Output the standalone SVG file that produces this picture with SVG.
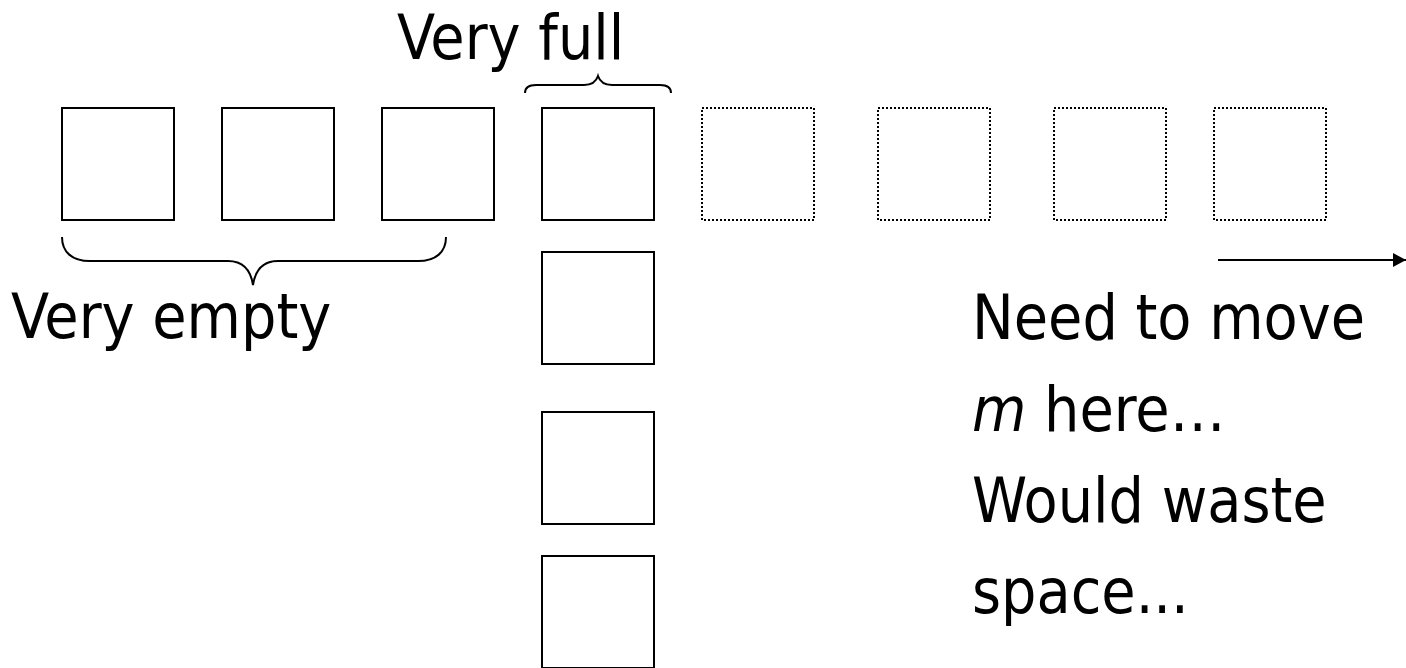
<svg xmlns="http://www.w3.org/2000/svg" width="1406" height="668" viewBox="0 0 1406 668">
<style>
.box{fill:#fff;stroke:#000;stroke-width:2}
.dot{fill:#fff;stroke:#000;stroke-width:2;stroke-dasharray:2 2}
.br{fill:none;stroke:#000;stroke-width:2}
.t{font-family:"DejaVu Sans Condensed","DejaVu Sans",sans-serif;font-stretch:condensed;font-size:62px;fill:#000}
</style>
<defs>
<marker id="ah" viewBox="0 0 13 14" refX="13" refY="7" markerWidth="13" markerHeight="14" markerUnits="userSpaceOnUse" orient="auto">
<path d="M0,0 L13,7 L0,14 z" fill="#000"/>
</marker>
</defs>
<rect width="1406" height="668" fill="#fff"/>
<g id="row">
<rect id="b1" class="box" x="62" y="108" width="112" height="112"/>
<rect id="b2" class="box" x="222" y="108" width="112" height="112"/>
<rect id="b3" class="box" x="382" y="108" width="112" height="112"/>
<rect id="b4" class="box" x="542" y="108" width="112" height="112"/>
<rect id="d1" class="dot" x="702" y="108" width="112" height="112"/>
<rect id="d2" class="dot" x="878" y="108" width="112" height="112"/>
<rect id="d3" class="dot" x="1054" y="108" width="112" height="112"/>
<rect id="d4" class="dot" x="1214" y="108" width="112" height="112"/>
</g>
<g id="col">
<rect id="c1" class="box" x="542" y="252" width="112" height="112"/>
<rect id="c2" class="box" x="542" y="412" width="112" height="112"/>
<rect id="c3" class="box" x="542" y="556" width="112" height="112"/>
</g>
<g id="connectors">
<path class="br" d="M525,93 C525,87 529,85 536,85 L584,85 C592,85 596,82 598,76 C600,82 604,85 612,85 L660,85 C667,85 671,87 671,93"/>
<path class="br" d="M62,237 C62,252 72,261 90,261 L228,261 C244,261 251,272 253,285 C255,272 262,261 278,261 L418,261 C436,261 446,252 446,237"/>
<line x1="1218" y1="260" x2="1406" y2="260" stroke="#000" stroke-width="2" marker-end="url(#ah)"/>
</g>
<g id="labels">
<text class="t" x="397" y="59">Very full</text>
<text class="t" x="11" y="338">Very empty</text>
<text class="t" x="972" y="339">Need to move</text>
<text class="t" x="972" y="431"><tspan font-style="italic">m</tspan> here…</text>
<text class="t" x="972" y="522">Would waste</text>
<text class="t" x="972" y="613">space...</text>
</g>
</svg>
